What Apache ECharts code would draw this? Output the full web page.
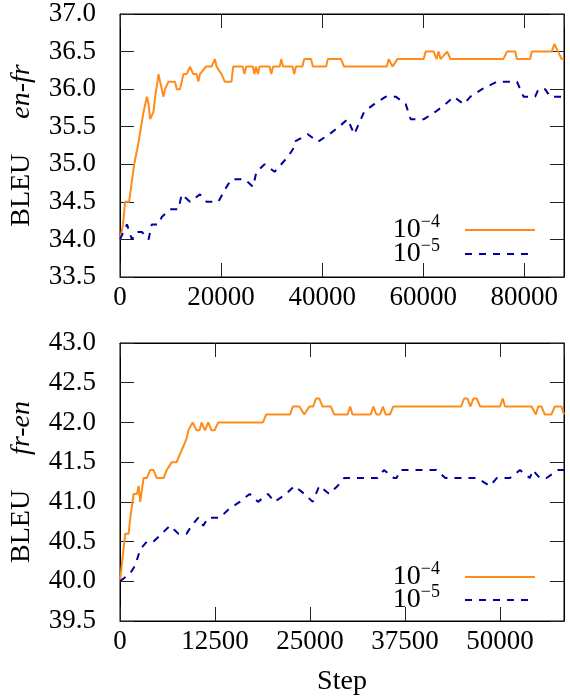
<!DOCTYPE html>
<html>
<head>
<meta charset="utf-8">
<script src="https://cdn.jsdelivr.net/npm/echarts@6/dist/echarts.min.js"></script>
<style>html,body{margin:0;padding:0;background:#fff}#c{width:570px;height:697px}</style>
</head>
<body>
<div id="c"></div>
<script>
// ---- top panel (en-fr) ----
const enfrStepsHi = [0,600,1000,1800,2200,2800,3400,3680,4670,5320,5650,5970,6640,6950,7430,7620,7940,8610,8920,9590,10890,11230,11880,12550,13200,13850,14500,15170,15500,15820,17000,18120,18770,19110,20090,20740,22060,22400,24300,24630,24960,26300,26600,26900,27300,27600,29600,29940,30300,31600,31910,32250,34150,34480,34800,36100,36450,37800,38160,40800,41110,43730,44330,52800,53190,53920,54900,60090,60480,62060,62650,63040,63430,64750,65400,75850,76570,78210,78540,81160,81490,85440,85950,86680,87400,87860];
const enfrHi = [34.0,34.2,34.5,34.5,34.7,35.0,35.2,35.3,35.7,35.9,35.8,35.6,35.7,35.9,36.1,36.2,36.1,35.9,36.0,36.1,36.1,36.0,36.0,36.2,36.2,36.3,36.2,36.2,36.1,36.2,36.3,36.3,36.4,36.3,36.2,36.1,36.1,36.3,36.3,36.2,36.3,36.3,36.2,36.3,36.2,36.3,36.3,36.2,36.3,36.3,36.4,36.3,36.3,36.2,36.3,36.3,36.4,36.4,36.3,36.3,36.4,36.4,36.3,36.3,36.4,36.3,36.4,36.4,36.5,36.5,36.4,36.5,36.4,36.5,36.4,36.4,36.5,36.5,36.4,36.4,36.5,36.5,36.6,36.5,36.4,36.4];
const enfrStepsLo = [0,1380,2360,3350,4330,5650,6300,7620,8270,9910,11560,12210,13850,15820,17140,19440,21080,22060,24680,26340,26990,28620,30590,31910,33230,34220,34530,37170,39140,41430,43340,45050,46350,48320,50290,52600,54570,56540,57520,60140,62450,64420,66050,68020,69340,71650,74600,76240,78540,79850,82150,82800,84120,85100,87860];
const enfrLo = [34.0,34.2,34.0,34.1,34.1,34.0,34.2,34.2,34.3,34.4,34.4,34.6,34.5,34.6,34.5,34.5,34.7,34.8,34.8,34.7,34.9,35.0,34.9,35.0,35.1,35.2,35.3,35.4,35.3,35.4,35.5,35.6,35.4,35.7,35.8,35.9,35.9,35.8,35.6,35.6,35.7,35.8,35.9,35.8,35.9,36.0,36.1,36.1,36.1,35.9,35.9,36.0,36.0,35.9,35.9];
// ---- bottom panel (fr-en) ----
const frenStepsHi = [0,690,1140,1350,1570,1790,2230,2450,2660,3100,3530,3970,4410,4840,5720,6150,6810,7460,7890,8340,8770,8990,9560,10080,10470,10730,11170,11610,12040,12440,12920,18810,19240,22380,22740,23600,24260,24910,25400,25790,26220,26660,27750,28180,29940,30280,30590,32990,33340,33730,34200,34600,34950,35510,35960,44860,45290,45730,46080,46510,46950,47390,50000,50360,50660,54150,54720,55020,55460,55890,56770,57200,58080,58420];
const frenHi = [40.0,40.6,40.6,40.8,40.8,41.1,41.1,41.2,41.0,41.3,41.3,41.4,41.4,41.3,41.3,41.4,41.5,41.5,41.6,41.7,41.8,41.9,42.0,41.9,41.9,42.0,41.9,42.0,41.9,41.9,42.0,42.0,42.1,42.1,42.2,42.2,42.1,42.2,42.2,42.3,42.3,42.2,42.2,42.1,42.1,42.2,42.1,42.1,42.2,42.1,42.1,42.2,42.1,42.1,42.2,42.2,42.3,42.3,42.2,42.3,42.3,42.2,42.2,42.3,42.2,42.2,42.1,42.2,42.2,42.1,42.1,42.2,42.2,42.1];
const frenStepsLo = [0,1350,2000,2660,3530,4410,5500,6580,7680,8770,9420,10300,10950,11610,13130,14230,15750,17060,18160,19470,20330,21860,22950,24260,25360,26220,27530,28630,29490,33860,34730,36040,36390,36900,41630,42800,46950,48690,49570,51310,52620,53930,54320,55240,56120,57640,58420];
const frenLo = [40.0,40.1,40.2,40.4,40.5,40.5,40.6,40.7,40.6,40.6,40.7,40.8,40.7,40.8,40.8,40.9,41.0,41.1,41.0,41.1,41.0,41.1,41.2,41.1,41.0,41.2,41.1,41.2,41.3,41.3,41.4,41.3,41.3,41.4,41.4,41.3,41.3,41.2,41.3,41.3,41.4,41.3,41.4,41.3,41.3,41.4,41.4];

const seriesNames = ['1e-4','1e-5'];
const topXTicks = [0,20000,40000,60000,80000];
const botXTicks = [0,12500,25000,37500,50000];

const FONT = 'Liberation Serif';
const ORANGE = '#ff8c1a';
const BLUE = '#00009c';

function zip(xs, ys){ return xs.map((x,i)=>[x, ys[i]]); }

const grids = [
  {left:118, top:14, width:446, height:263, show:true, borderColor:'#000', borderWidth:1},
  {left:118, top:343, width:446, height:281, show:true, borderColor:'#000', borderWidth:1}
];

function xAx(grid, max, interval, pos, labels, name){
  return {
    type:'value', gridIndex:grid, position:pos, min:0, max:max, interval:interval,
    axisLine:{show:true, onZero:false, lineStyle:{color:'#000', width:1}},
    axisTick:{show:true, inside:true, length:14, lineStyle:{color:'#222', width:1}},
    splitLine:{show:false},
    axisLabel:{show:labels, showMaxLabel:false, color:'#000', fontFamily:FONT, fontSize:27, margin:7, formatter:v=>String(v)},
    name: name || '', nameLocation:'middle', nameGap:47,
    nameTextStyle:{color:'#000', fontFamily:FONT, fontSize:28}
  };
}
function yAx(grid, min, max, pos, labels, name){
  return {
    type:'value', gridIndex:grid, position:pos, min:min, max:max, interval:0.5,
    axisLine:{show:true, onZero:false, lineStyle:{color:'#000', width:1}},
    axisTick:{show:true, inside:true, length:14, lineStyle:{color:'#222', width:1}},
    splitLine:{show:false},
    axisLabel:{show:labels, color:'#000', fontFamily:FONT, fontSize:27, margin:24, formatter:v=>v.toFixed(1)},
    name: name || '', nameLocation:'middle', nameRotate:90, nameGap:84,
    nameTextStyle:{color:'#000', fontFamily:FONT, fontSize:28,
      rich:{a:{fontFamily:FONT, fontSize:28, color:'#000'}, b:{fontFamily:FONT, fontSize:28, fontStyle:'italic', color:'#000'}}}
  };
}

const legendRich = {
  base:{fontFamily:FONT, fontSize:28, color:'#000', lineHeight:24},
  sup:{fontFamily:FONT, fontSize:18, color:'#000', verticalAlign:'bottom', padding:[0,0,11,0], lineHeight:13}
};
function legendFmt(n){ return n==='1e-4' ? '{base|10}{sup|−4}' : '{base|10}{sup|−5}'; }
function mkLegend(top, name){
  return {
    orient:'vertical', right:29, top:top, align:'right', itemWidth:70, itemHeight:14,
    data: [name], formatter: legendFmt, selectedMode:false,
    itemStyle:{opacity:0},
    textStyle:{rich:legendRich, padding:[0,20,0,0]}
  };
}

function line(name, data, xi, yi, color, dashed){
  return {
    name:name, type:'line', xAxisIndex:xi, yAxisIndex:yi, data:data,
    showSymbol:false, symbol:'none', animation:false,
    lineStyle:{color:color, width:2, type: dashed ? [7,7] : 'solid'},
    itemStyle:{color:color}
  };
}

const chart = echarts.init(document.getElementById('c'), null, {renderer:'canvas'});
chart.setOption({
  animation:false,
  backgroundColor:'#fff',
  grid: grids,
  xAxis:[
    xAx(0, 87860, 20000, 'bottom', true),
    xAx(0, 87860, 20000, 'top', false),
    xAx(1, 58420, 12500, 'bottom', true, 'Step'),
    xAx(1, 58420, 12500, 'top', false)
  ],
  yAxis:[
    yAx(0, 33.5, 37.0, 'left', true, '{a|BLEU}     {b|en-fr}'),
    yAx(0, 33.5, 37.0, 'right', false),
    yAx(1, 39.5, 43.0, 'left', true, '{a|BLEU}     {b|fr-en}'),
    yAx(1, 39.5, 43.0, 'right', false)
  ],
  legend:[
    mkLegend(208, seriesNames[0]), mkLegend(232, seriesNames[1]),
    mkLegend(555, seriesNames[0]), mkLegend(578, seriesNames[1])
  ],
  series:[
    line(seriesNames[0], zip(enfrStepsHi, enfrHi), 0, 0, ORANGE, false),
    line(seriesNames[1], zip(enfrStepsLo, enfrLo), 0, 0, BLUE, true),
    line(seriesNames[0], zip(frenStepsHi, frenHi), 2, 2, ORANGE, false),
    line(seriesNames[1], zip(frenStepsLo, frenLo), 2, 2, BLUE, true)
  ]
});
</script>
</body>
</html>
